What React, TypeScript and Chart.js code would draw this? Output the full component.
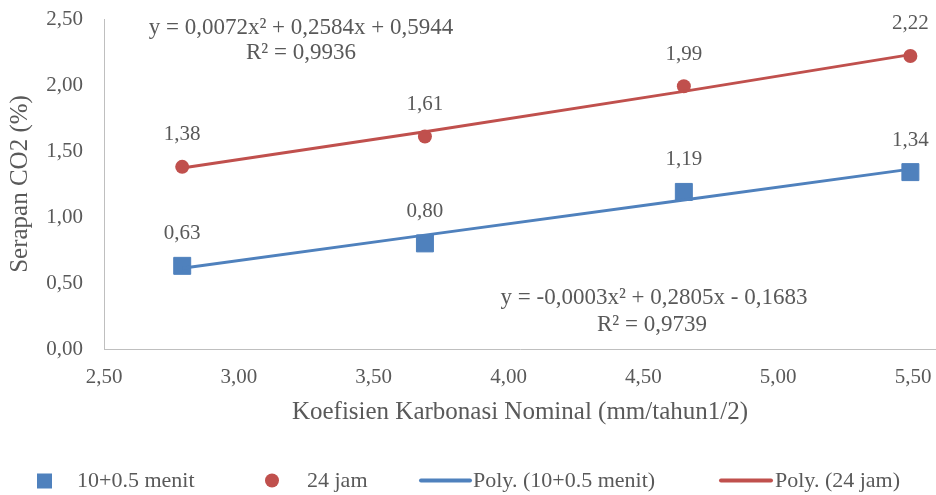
import React, { useEffect, useRef } from "react";
import { Chart, registerables } from "chart.js";

Chart.register(...registerables);

const xValues = [2.79, 3.69, 4.65, 5.49];
const series1Name = "10+0.5 menit";
const series1Values = [0.63, 0.8, 1.19, 1.34];
const series2Name = "24 jam";
const series2Values = [1.38, 1.61, 1.99, 2.22];
const xTickValues = [2.5, 3.0, 3.5, 4.0, 4.5, 5.0, 5.5];
const yTickValues = [0, 0.5, 1.0, 1.5, 2.0, 2.5];
// trendline coefficients shown on the chart: a*x^2 + b*x + c
const trend1Coef = [-0.0003, 0.2805, -0.1683];
const trend2Coef = [0.0072, 0.2584, 0.5944];
const trend1Text = ["y = -0,0003x\u00B2 + 0,2805x - 0,1683", "R\u00B2 = 0,9739"];
const trend2Text = ["y = 0,0072x\u00B2 + 0,2584x + 0,5944", "R\u00B2 = 0,9936"];
const xTitle = "Koefisien Karbonasi Nominal (mm/tahun1/2)";
const yTitle = "Serapan CO2 (%)";

const BLUE = "#4F81BD";
const RED = "#C0504D";
const TEXT = "#595959";
const AXIS = "#BFBFBF";
const FONT = "'Liberation Serif', 'DejaVu Serif', serif";

const fmt = (v: number) => v.toFixed(2).replace(".", ",");
const poly = (c: number[], x: number) => c[0] * x * x + c[1] * x + c[2];

export default function App() {
  const ref = useRef<HTMLCanvasElement | null>(null);
  useEffect(() => {
    if (!ref.current) return;
    const labelPlugin = {
      id: "extras",
      afterDatasetsDraw(chart: any) {
        const ctx = chart.ctx;
        ctx.save();
        ctx.fillStyle = TEXT;
        ctx.font = `21px ${FONT}`;
        ctx.textAlign = "center";
        ctx.textBaseline = "middle";
        chart.data.datasets.forEach((ds: any, i: number) => {
          if (!ds.isPoints) return;
          const meta = chart.getDatasetMeta(i);
          meta.data.forEach((el: any, j: number) => {
            ctx.fillText(fmt(ds.data[j].y), el.x, el.y - 32);
          });
        });
        // trendline equations
        ctx.font = `23px ${FONT}`;
        ctx.fillText(trend2Text[0], 301, 28);
        ctx.fillText(trend2Text[1], 301, 53);
        ctx.fillText(trend1Text[0], 654, 298);
        ctx.fillText(trend1Text[1], 652, 325);
        ctx.restore();
      },
      afterDraw(chart: any) {
        const ctx = chart.ctx;
        const y = 481;
        ctx.save();
        ctx.font = `22px ${FONT}`;
        ctx.textAlign = "left";
        ctx.textBaseline = "middle";
        ctx.fillStyle = BLUE;
        ctx.fillRect(37, y - 7.5, 15, 15);
        ctx.fillStyle = TEXT;
        ctx.fillText(series1Name, 77, y);
        ctx.fillStyle = RED;
        ctx.beginPath();
        ctx.arc(272, y - 0.5, 7, 0, Math.PI * 2);
        ctx.fill();
        ctx.fillStyle = TEXT;
        ctx.fillText(series2Name, 307, y);
        ctx.lineWidth = 4;
        ctx.lineCap = "round";
        ctx.strokeStyle = BLUE;
        ctx.beginPath();
        ctx.moveTo(421, y - 0.5);
        ctx.lineTo(470, y - 0.5);
        ctx.stroke();
        ctx.fillText("Poly. (" + series1Name + ")", 473, y);
        ctx.strokeStyle = RED;
        ctx.beginPath();
        ctx.moveTo(721, y - 0.5);
        ctx.lineTo(771, y - 0.5);
        ctx.stroke();
        ctx.fillText("Poly. (" + series2Name + ")", 775, y);
        ctx.restore();
      },
    };

    const chart = new Chart(ref.current, {
      type: "scatter",
      data: {
        datasets: [
          {
            label: "Poly. (" + series1Name + ")",
            type: "line",
            data: xValues.map((x) => ({ x, y: poly(trend1Coef, x) })),
            borderColor: BLUE,
            borderWidth: 3,
            pointRadius: 0,
            showLine: true,
            fill: false,
            order: 0,
          },
          {
            label: "Poly. (" + series2Name + ")",
            type: "line",
            data: xValues.map((x) => ({ x, y: poly(trend2Coef, x) })),
            borderColor: RED,
            borderWidth: 3,
            pointRadius: 0,
            showLine: true,
            fill: false,
            order: 0,
          },
          {
            label: series1Name,
            data: xValues.map((x, i) => ({ x, y: series1Values[i] })),
            backgroundColor: BLUE,
            borderColor: BLUE,
            borderWidth: 1,
            pointStyle: "rect",
            pointRadius: 12,
            order: 1,
            isPoints: true,
          } as any,
          {
            label: series2Name,
            data: xValues.map((x, i) => ({ x, y: series2Values[i] })),
            backgroundColor: RED,
            borderColor: RED,
            borderWidth: 0,
            pointStyle: "circle",
            pointRadius: 7,
            order: 1,
            isPoints: true,
          } as any,
        ],
      },
      options: {
        animation: false,
        responsive: false,
        layout: { autoPadding: false, padding: { top: 19, right: 0, bottom: 64, left: 0 } },
        plugins: { legend: { display: false }, tooltip: { enabled: false } },
        scales: {
          x: {
            type: "linear",
            min: 2.5,
            max: 5.585,
            afterBuildTicks: (s: any) => {
              s.ticks = xTickValues.map((v) => ({ value: v }));
            },
            afterFit: (s: any) => {
              s.height = 82;
              s.paddingLeft = 0;
              s.paddingRight = 0;
            },
            ticks: {
              color: TEXT,
              font: { family: FONT, size: 21 },
              padding: 16,
              maxRotation: 0,
              autoSkip: false,
              callback: (v: any) => fmt(Number(v)),
            },
            grid: { drawOnChartArea: false, drawTicks: false },
            border: { color: AXIS, width: 1 },
            title: {
              display: true,
              text: xTitle,
              color: TEXT,
              font: { family: FONT, size: 25 },
              padding: { top: 4, bottom: 4 },
            },
          },
          y: {
            min: 0,
            max: 2.5,
            afterBuildTicks: (s: any) => {
              s.ticks = yTickValues.map((v) => ({ value: v }));
            },
            afterFit: (s: any) => {
              s.width = 104;
              s.paddingTop = 0;
              s.paddingBottom = 0;
            },
            ticks: {
              color: TEXT,
              font: { family: FONT, size: 21 },
              padding: 21,
              autoSkip: false,
              callback: (v: any) => fmt(Number(v)),
            },
            grid: { drawOnChartArea: false, drawTicks: false },
            border: { color: AXIS, width: 1 },
            title: {
              display: true,
              text: yTitle,
              color: TEXT,
              font: { family: FONT, size: 25 },
              padding: { top: 5, bottom: 4 },
            },
          },
        },
      },
      plugins: [labelPlugin],
    } as any);
    return () => chart.destroy();
  }, []);
  return (
    <div style={{ position: "fixed", left: 0, top: 0, width: 936, height: 495, background: "#fff" }}>
      <canvas ref={ref} width={936} height={495} />
    </div>
  );
}
